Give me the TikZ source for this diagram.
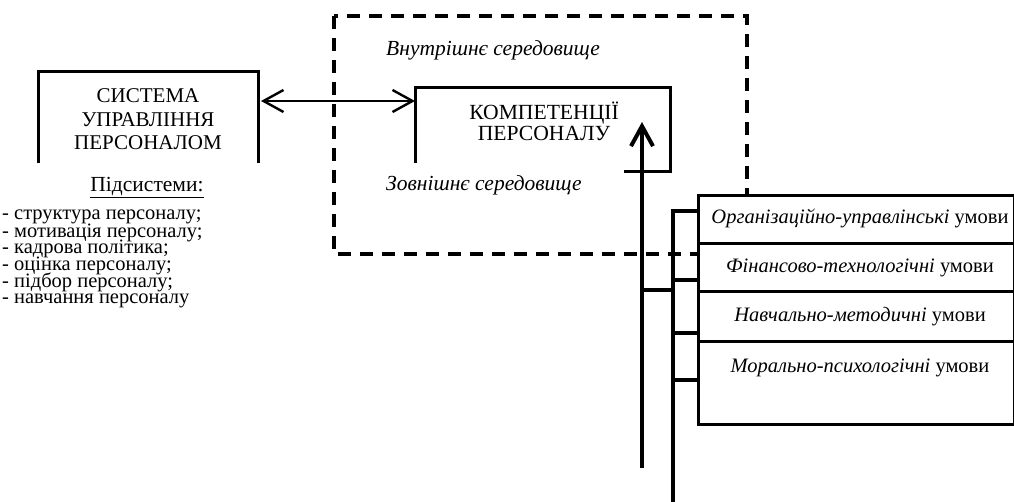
\documentclass[tikz,border=0pt]{standalone}
\usepackage{fontspec}
\setmainfont{Liberation Serif}
\usetikzlibrary{arrows.meta}
\begin{document}
\begin{tikzpicture}[x=1pt,y=-1pt,
  boxline/.style={line width=3pt},
  envline/.style={line width=3.2pt, dash pattern=on 13pt off 9pt},
  condbox/.style={draw, line width=3pt, fill=white, inner sep=0pt, anchor=north west, minimum width=316pt},
  link/.style={line width=3.6pt},
  barb/.tip={Straight Barb[length=20pt,width=22pt]},
  bigtxt/.style={inner sep=0pt, anchor=base, font=\fontsize{21}{24}\selectfont},
  listtxt/.style={inner sep=0pt, anchor=base west, font=\fontsize{20.5}{17}\selectfont},
  envtxt/.style={inner sep=0pt, anchor=base west, font=\fontsize{21.5}{22}\selectfont\itshape},
  condtxt/.style={inner sep=0pt, anchor=base, font=\fontsize{20.5}{22}\selectfont}
]
\useasboundingbox (0,0) rectangle (1014,502);

% environment (dashed)
\draw[envline] (334,16) rectangle (747,254);

% left system box (open at bottom)
\coordinate (sysBL) at (38,163);
\coordinate (sysTR) at (258,72);
\coordinate (sysBR) at (258,163);
\draw[boxline] (sysBL) |- (sysTR) -- (sysBR);
\node[bigtxt] (s1) at (148,103) {СИСТЕМА};
\node[bigtxt] (s2) at (148,127) {УПРАВЛІННЯ};
\node[bigtxt] (s3) at (148,150) {ПЕРСОНАЛОМ};

% subsystems list
\node[bigtxt, font=\fontsize{21.5}{24}\selectfont] (sub) at (147,192) {\underline{Підсистеми:}};
\node[listtxt] (l1) at (2,220) {- структура персоналу;};
\node[listtxt] (l2) at (2,237.5) {- мотивація персоналу;};
\node[listtxt] (l3) at (2,254) {- кадрова політика;};
\node[listtxt] (l4) at (2,271) {- оцінка персоналу;};
\node[listtxt] (l5) at (2,287.5) {- підбор персоналу;};
\node[listtxt] (l6) at (2,304) {- навчання персоналу};

% competence box (open)
\coordinate (compBL) at (415,163);
\coordinate (compTR) at (670,88);
\coordinate (compB) at (624,172);
\draw[boxline] (compBL) |- (compTR) |- (compB);
\node[bigtxt, font=\fontsize{21.6}{22}\selectfont] (k1) at (544,120) {КОМПЕТЕНЦІЇ};
\node[bigtxt, font=\fontsize{21.6}{22}\selectfont] (k2) at (544,141) {ПЕРСОНАЛУ};

% environment labels
\node[envtxt] (inner) at (386,56) {Внутрішнє середовище};
\node[envtxt] (outer) at (386,191) {Зовнішнє середовище};

% double arrow
\coordinate (aL) at (261,101);
\coordinate (aR) at (415,101);
\draw[line width=2.4pt, {barb}-{barb}] (aL) -- (aR);

% condition boxes
\node[condbox, minimum height=48pt] (c1) at (697,194) {};
\node[condbox, minimum height=48pt] (c2) at (697,242) {};
\node[condbox, minimum height=50pt] (c3) at (697,290) {};
\node[condbox, minimum height=83pt] (c4) at (697,340) {};
\node[condtxt] (t1) at (860,224) {\textit{Організаційно-управлінські} умови};
\node[condtxt] (t2) at (860,273) {\textit{Фінансово-технологічні} умови};
\node[condtxt] (t3) at (860,322) {\textit{Навчально-методичні} умови};
\node[condtxt] (t4) at (860,372) {\textit{Морально-психологічні} умови};

% bus lines
\coordinate (busTop) at (673,211);
\coordinate (busBot) at (673,502);
\coordinate (arrBot) at (642,468);
\coordinate (arrTip) at (642,122);
\draw[link] (busBot) -- (busTop) -- (c1.west |- busTop);
\draw[link] (673,280) -- (699,280);
\draw[link] (673,333) -- (699,333);
\draw[link] (673,380) -- (c4.west |- 0,380);
\draw[link] (arrBot |- 0,290) -- (busTop |- 0,290);
\draw[line width=4pt, -{barb}] (arrBot) -- (arrTip);
\end{tikzpicture}
\end{document}
